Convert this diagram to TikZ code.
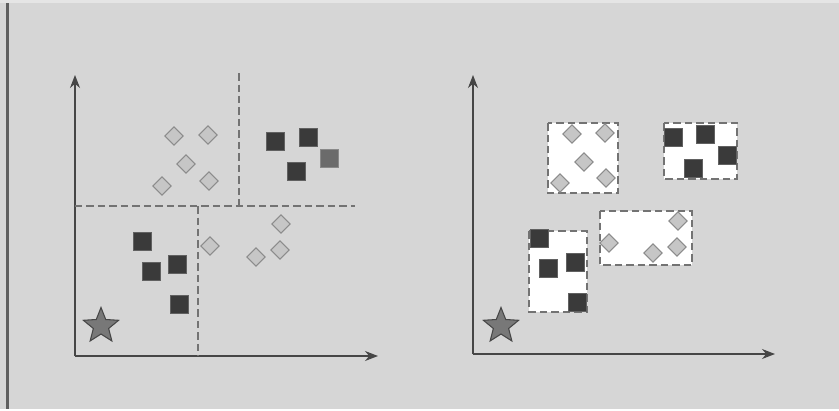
\documentclass[tikz,border=0pt]{standalone}
\usepackage{tikz}
\usepackage{xcolor}
\definecolor{panelgray}{RGB}{214, 214, 214}
\definecolor{edgegray}{RGB}{95, 95, 95}
\definecolor{axisgray}{RGB}{70, 70, 70}
\definecolor{cutgray}{RGB}{115, 115, 115}
\definecolor{gemfill}{RGB}{198, 198, 198}
\definecolor{gemdraw}{RGB}{140, 140, 140}
\definecolor{blockfill}{RGB}{58, 58, 58}
\definecolor{starfill}{RGB}{120, 120, 120}
\usetikzlibrary{arrows.meta, shapes.geometric, shapes, positioning, calc}

\begin{document}
\begin{tikzpicture}[
    x=0.02cm, y=-0.02cm,
    gem/.style={diamond, draw=gemdraw, fill=gemfill, line width=0.6pt, inner sep=0pt, minimum size=0.37cm},
    block/.style={rectangle, draw=blockfill!80, fill=blockfill, line width=0.4pt, inner sep=0pt, minimum size=0.36cm},
    query/.style={star, star points=5, star point ratio=2.3, draw=axisgray, fill=starfill, line width=0.6pt, inner sep=0pt, minimum size=0.74cm},
    cell/.style={draw=cutgray, dashed, dash pattern=on 0.15cm off 0.08cm, line width=0.9pt, fill=white},
    cut/.style={draw=cutgray, dash pattern=on 0.15cm off 0.08cm, line width=0.9pt},
    axis/.style={-{Stealth[length=0.26cm, width=0.2cm]}, draw=axisgray, line width=0.7pt}
]

% Background
\fill[panelgray] (0,0) rectangle (839,409);
\fill[gray!20] (0,0) rectangle (839,3);
\draw[edgegray, line width=1.2pt] (7.5,3) -- (7.5,409);

% ---------------- Left panel: axis-aligned splits ----------------
\coordinate (lo) at (75,356);
\coordinate (ly) at (75,75);
\coordinate (lx) at (378,356);
\draw[axis] (lo) -- (ly);
\draw[axis] (lo) -- (lx);

% Dashed split lines
\coordinate (hl) at (75,206);
\coordinate (hr) at (355,206);
\coordinate (vt) at (239,73);
\coordinate (vb) at (198,356);
\draw[cut] (hl) -- (hr);
\draw[cut] (vt) -- (vt |- hl);
\draw[cut] (vb |- hl) -- (vb);

% Diamonds, upper left
\node[gem] (la1) at (174,136) {};
\node[gem] (la2) at (208,135) {};
\node[gem] (la3) at (186,164) {};
\node[gem] (la4) at (209,181) {};
\node[gem] (la5) at (162,186) {};

% Squares, upper right
\node[block] (lb1) at (275,141) {};
\node[block] (lb2) at (308,137) {};
\node[block, fill=blockfill!75, draw=blockfill!60] (lb3) at (329,158) {};
\node[block] (lb4) at (296,171) {};

% Diamonds, lower right
\node[gem] (lc1) at (281,224) {};
\node[gem] (lc2) at (210,246) {};
\node[gem] (lc3) at (280,250) {};
\node[gem] (lc4) at (256,257) {};

% Squares, lower left
\node[block] (ld1) at (142,241) {};
\node[block] (ld2) at (151,271) {};
\node[block] (ld3) at (177,264) {};
\node[block] (ld4) at (179,304) {};

% Query point
\node[query] (lq) at (101,326) {};

% ---------------- Right panel: bounding boxes ----------------
\coordinate (ro) at (473,354);
\coordinate (ry) at (473,75);
\coordinate (rx) at (775,354);
\draw[axis] (ro) -- (ry);
\draw[axis] (ro) -- (rx);

% Dashed boxes
\draw[cell] (548,123) rectangle (618,193);
\draw[cell] (664,123) rectangle (737,179);
\draw[cell] (600,211) rectangle (692,265);
\draw[cell] (529,231) rectangle (587,312);

% Box 1 diamonds
\node[gem] (ra1) at (572,134) {};
\node[gem] (ra2) at (605,133) {};
\node[gem] (ra3) at (584,162) {};
\node[gem] (ra4) at (606,178) {};
\node[gem] (ra5) at (560,183) {};

% Box 2 squares
\node[block] (rb1) at (673,137) {};
\node[block] (rb2) at (705,134) {};
\node[block] (rb3) at (727,155) {};
\node[block] (rb4) at (693,168) {};

% Box 3 diamonds
\node[gem] (rc1) at (678,221) {};
\node[gem] (rc2) at (609,243) {};
\node[gem] (rc3) at (677,247) {};
\node[gem] (rc4) at (653,253) {};

% Box 4 squares
\node[block] (rd1) at (539,238) {};
\node[block] (rd2) at (548,268) {};
\node[block] (rd3) at (575,262) {};
\node[block] (rd4) at (577,302) {};

% Query point
\node[query] (rq) at (501,326) {};

\useasboundingbox (0,0) rectangle (839,409);
\end{tikzpicture}
\end{document}
